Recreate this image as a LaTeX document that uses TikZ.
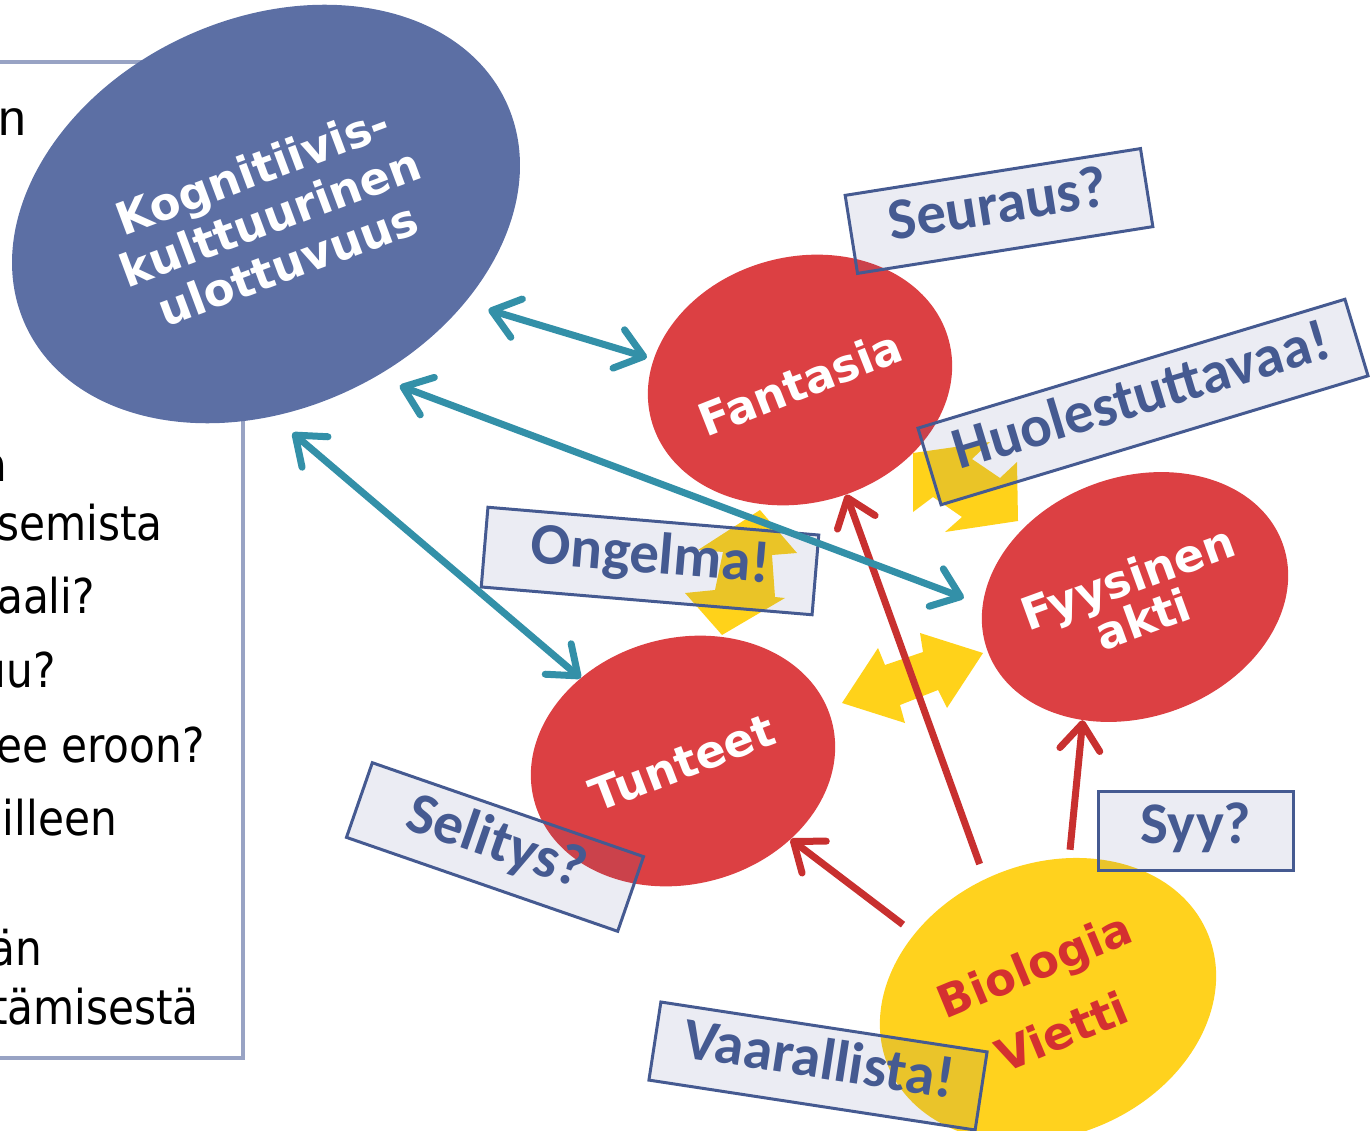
\documentclass[tikz,border=0pt]{standalone}
\usepackage{fontspec}
\usetikzlibrary{shapes.geometric,arrows.meta}
\newfontfamily\ellfont{DejaVu Sans}
\newfontfamily\labfont{Carlito}
\newfontfamily\leftfont{DejaVu Sans}[FakeStretch=0.88]
\newfontfamily\armfont{Liberation Sans}
\definecolor{kogblue}{RGB}{92,111,164}
\definecolor{ellred}{RGB}{220,64,67}
\definecolor{bioyellow}{RGB}{255,210,30}
\definecolor{arryellow}{RGB}{255,210,26}
\definecolor{biored}{RGB}{212,48,48}
\definecolor{tealc}{RGB}{51,144,168}
\definecolor{redarr}{RGB}{200,48,47}
\definecolor{labblue}{RGB}{69,90,145}
\definecolor{labfill}{RGB}{70,85,145}
\definecolor{framec}{RGB}{152,163,196}
\begin{document}
\begin{tikzpicture}[x=1pt,y=-1pt,
  ell/.style={ellipse, inner sep=0pt, draw=none},
  blueell/.style={ell, fill=kogblue},
  redell/.style={ell, fill=ellred},
  yelell/.style={ell, fill=bioyellow},
  elltext/.style={text=white, align=center, inner sep=0pt, font=\ellfont\bfseries\fontsize{45}{50}\selectfont},
  lab/.style={draw=labblue, line width=3pt, fill=labfill, fill opacity=0.11, text opacity=1, text=labblue,
    font=\labfont\bfseries\fontsize{59}{60}\selectfont, inner sep=0pt, text height=36pt, text depth=12pt},
  lefttext/.style={anchor=base east, inner sep=0pt, font=\leftfont\fontsize{48}{58}\selectfont, text=black},
  frameline/.style={draw=framec, line width=4pt},
  tealarrow/.style={draw=tealc, line width=7pt, {Straight Barb[length=26pt,width=40pt,round]}-{Straight Barb[length=26pt,width=40pt,round]}},
  redarrow/.style={draw=redarr, line width=7pt, -{Straight Barb[length=26pt,width=40pt,round]}},
  yarrow/.style={fill=arryellow, draw=none}
]
\useasboundingbox (0,0) rectangle (1372,1131);
\begin{scope}
\clip (0,0) rectangle (1372,1131);
% left frame
\draw[frameline] (-20,62) -- (243,62) -- (243,1058) -- (-20,1058);
% left text
\node[lefttext, font=\armfont\fontsize{50}{58}\selectfont] (l0) at (27,136) {n};
\node[lefttext] (l1) at (8,481) {a};
\node[lefttext] (l2) at (163,540) {semista};
\node[lefttext] (l3) at (95,613) {aali?};
\node[lefttext] (l4) at (56,687) {uu?};
\node[lefttext] (l5) at (205,762) {ee eroon?};
\node[lefttext] (l6) at (117,835) {illeen};
\node[lefttext] (l7) at (42,965) {än};
\node[lefttext] (l8) at (199,1024) {tämisestä};
% ellipses
\node[blueell, minimum width=530pt, minimum height=390pt, rotate=25] (kog) at (266,214) {};
\node[elltext, rotate=20.5] (kogt) at (270,217) {Kognitiivis-\\kulttuurinen\\ulottuvuus};
\node[redell, minimum width=308pt, minimum height=246pt, rotate=15] (fan) at (800,380) {};
\node[elltext, rotate=21.5] (fant) at (800,383) {Fantasia};
\node[redell, minimum width=314pt, minimum height=240pt, rotate=20] (fys) at (1135,597) {};
\node[elltext, rotate=20, font=\ellfont\bfseries\fontsize{45}{44}\selectfont] (fyst) at (1135,598) {Fyysinen\\akti};
\node[redell, minimum width=308pt, minimum height=246pt, rotate=15] (tun) at (683,761) {};
\node[elltext, rotate=21] (tunt) at (682,763) {Tunteet};
\node[yelell, minimum width=346pt, minimum height=272pt, rotate=22.5] (bio) at (1048,1000) {};
\node[elltext, rotate=22.5, text=biored, font=\ellfont\bfseries\fontsize{45}{72}\selectfont] (biot) at (1048,998) {Biologia\\Vietti};
% yellow block arrows
\fill[yarrow] (913,453) -- (913,512) -- (933,497) -- (962,517) -- (945,532) -- (1018,521)
  -- (1017,462) -- (1000,478) -- (972,459) -- (990,442) -- cycle;
\fill[yarrow] (760,510) -- (797,553) -- (772,555) -- (775,597) -- (785,598) -- (722,635)
  -- (685,593) -- (715,590) -- (723,552) -- (698,550) -- cycle;
\fill[yarrow] (842,703) -- (878,648) -- (885,665) -- (923,652) -- (920,633) -- (983,653)
  -- (947,708) -- (938,690) -- (900,705) -- (905,723) -- cycle;
% red arrows
\draw[redarrow, shorten <=14.7pt] (bio.131.1) -- (tun.-51.3);
\draw[redarrow, shorten <=15.9pt] (bio.95.8) -- (fan.-83.3);
\draw[redarrow, shorten <=8.2pt] (bio.59) -- (fys.-133.3);
% labels
\node[lab, rotate=9, minimum width=299pt, minimum height=79pt] (seu) at (999,211) {Seuraus?};
\node[lab, rotate=16.8, minimum width=446pt, minimum height=80pt] (huo) at (1143,402) {Huolestuttavaa!};
\node[lab, rotate=-4.8, minimum width=332pt, minimum height=80pt] (ong) at (650,561) {Ongelma!};
\node[lab, minimum width=195pt, minimum height=79pt] (syy) at (1196,831) {Syy?};
\node[lab, rotate=-19.1, minimum width=287pt, minimum height=79pt] (sel) at (495,847) {Selitys?};
\node[lab, rotate=-8.7, minimum width=330pt, minimum height=79pt] (vaa) at (818,1066) {Vaarallista!};
% teal arrows
\draw[tealarrow, shorten <=24.4pt, shorten >=6.8pt] (kog.-49.5) -- (fan.157.2);
\draw[tealarrow, shorten <=25.6pt, shorten >=20pt] (kog.-81.9) -- (fys.163.3);
\draw[tealarrow, shorten <=25.6pt] (kog.-113.4) -- (tun.126.8);
\end{scope}
\end{tikzpicture}
\end{document}
